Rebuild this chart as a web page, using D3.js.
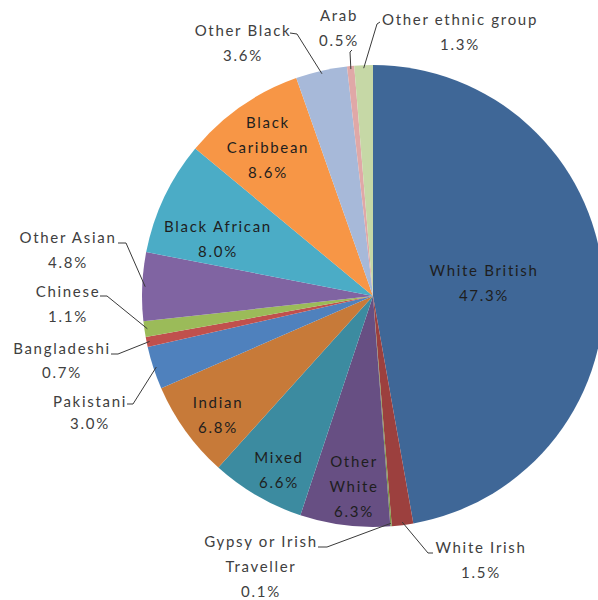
<!DOCTYPE html>
<html>
<head>
<meta charset="utf-8">
<script src="https://cdn.jsdelivr.net/npm/d3@7"></script>
<style>
  body { margin: 0; background: #fff; }
  svg text { font-family: Lato, "Open Sans", sans-serif; }
</style>
</head>
<body>
<div id="chart"></div>
<script>
const width = 598;
const height = 600;

// data, clockwise from 12 o'clock
const groups = ["White British", "White Irish", "Gypsy or Irish Traveller", "Other White", "Mixed", "Indian",
  "Pakistani", "Bangladeshi", "Chinese", "Other Asian", "Black African", "Black Caribbean",
  "Other Black", "Arab", "Other ethnic group"];
const shares = [47.3, 1.5, 0.1, 6.3, 6.6, 6.8, 3.0, 0.7, 1.1, 4.8, 8.0, 8.6, 3.6, 0.5, 1.3];
const colours = ["#3f6797", "#9c403e", "#7c9847", "#674f83", "#3c8ba0", "#c77a39",
  "#4f81bd", "#c0504d", "#9bbb59", "#8064a2", "#4bacc6", "#f79646",
  "#a7b9d9", "#e0a8a7", "#c6d8a6"];

// label layout: text lines, centre x, first line y, and leader line elbow (outside labels)
const labelLayout = {
  "White British":   {lines: ["White British"], x: 483, y: 271},
  "White Irish":     {lines: ["White Irish"], x: 480, y: 548, elbow: [[433, 553], [428, 553]]},
  "Gypsy or Irish Traveller": {lines: ["Gypsy or Irish", "Traveller"], x: 260, y: 542, elbow: [[318, 547], [327, 547]]},
  "Other White":     {lines: ["Other", "White"], x: 353, y: 462},
  "Mixed":           {lines: ["Mixed"], x: 278, y: 458},
  "Indian":          {lines: ["Indian"], x: 217, y: 403},
  "Pakistani":       {lines: ["Pakistani"], x: 89, y: 402, gap: 22, elbow: [[127, 404], [133, 404]]},
  "Bangladeshi":     {lines: ["Bangladeshi"], x: 61, y: 349, gap: 24, elbow: [[111, 354], [118, 354]]},
  "Chinese":         {lines: ["Chinese"], x: 67, y: 292, elbow: [[100, 296], [107, 296]]},
  "Other Asian":     {lines: ["Other Asian"], x: 67, y: 238, elbow: [[118, 243], [126, 243]]},
  "Black African":   {lines: ["Black African"], x: 217, y: 227},
  "Black Caribbean": {lines: ["Black", "Caribbean"], x: 267, y: 123},
  "Other Black":     {lines: ["Other Black"], x: 242, y: 31, elbow: [[290, 33], [297, 34]]},
  "Arab":            {lines: ["Arab"], x: 338, y: 16, elbow: [[352, 50], [350, 52]]},
  "Other ethnic group": {lines: ["Other ethnic group"], x: 459, y: 20, elbow: [[380, 22], [377, 24]]}
};

const cx = 373, cy = 296, radius = 231;

const svg = d3.select("#chart").append("svg")
  .attr("width", width)
  .attr("height", height);

const g = svg.append("g").attr("transform", `translate(${cx},${cy})`);

const pie = d3.pie().sort(null).value(d => d.value);
const arcs = pie(groups.map((name, i) => ({name: name, value: shares[i], colour: colours[i]})));

const arc = d3.arc().innerRadius(0).outerRadius(radius);
const edge = d3.arc().innerRadius(radius - 3).outerRadius(radius - 3);

g.selectAll("path.slice")
  .data(arcs)
  .enter()
  .append("path")
  .attr("class", "slice")
  .attr("d", arc)
  .attr("fill", d => d.data.colour);

// leader lines
arcs.forEach(d => {
  const lay = labelLayout[d.data.name];
  if (!lay.elbow) return;
  const p = edge.centroid(d);
  const pts = lay.elbow.map(e => [e[0] - cx, e[1] - cy]);
  pts.push(p);
  g.append("path")
    .attr("d", d3.line()(pts))
    .attr("fill", "none")
    .attr("stroke", "#3a3a3a")
    .attr("stroke-width", 1);
});

// labels
arcs.forEach(d => {
  const lay = labelLayout[d.data.name];
  const gap = lay.gap || 25;
  const lines = lay.lines.concat([d.data.value.toFixed(1) + "%"]);
  const t = svg.append("text")
    .attr("text-anchor", "middle")
    .attr("fill", lay.elbow ? "#404040" : "#1e1e1e")
    .style("font-size", "15px")
    .style("letter-spacing", "1.7px");
  lines.forEach((s, i) => {
    t.append("tspan")
      .attr("x", lay.x + 1)
      .attr("y", lay.y + i * gap)
      .attr("dy", "0.35em")
      .text(s);
  });
});
</script>
</body>
</html>
